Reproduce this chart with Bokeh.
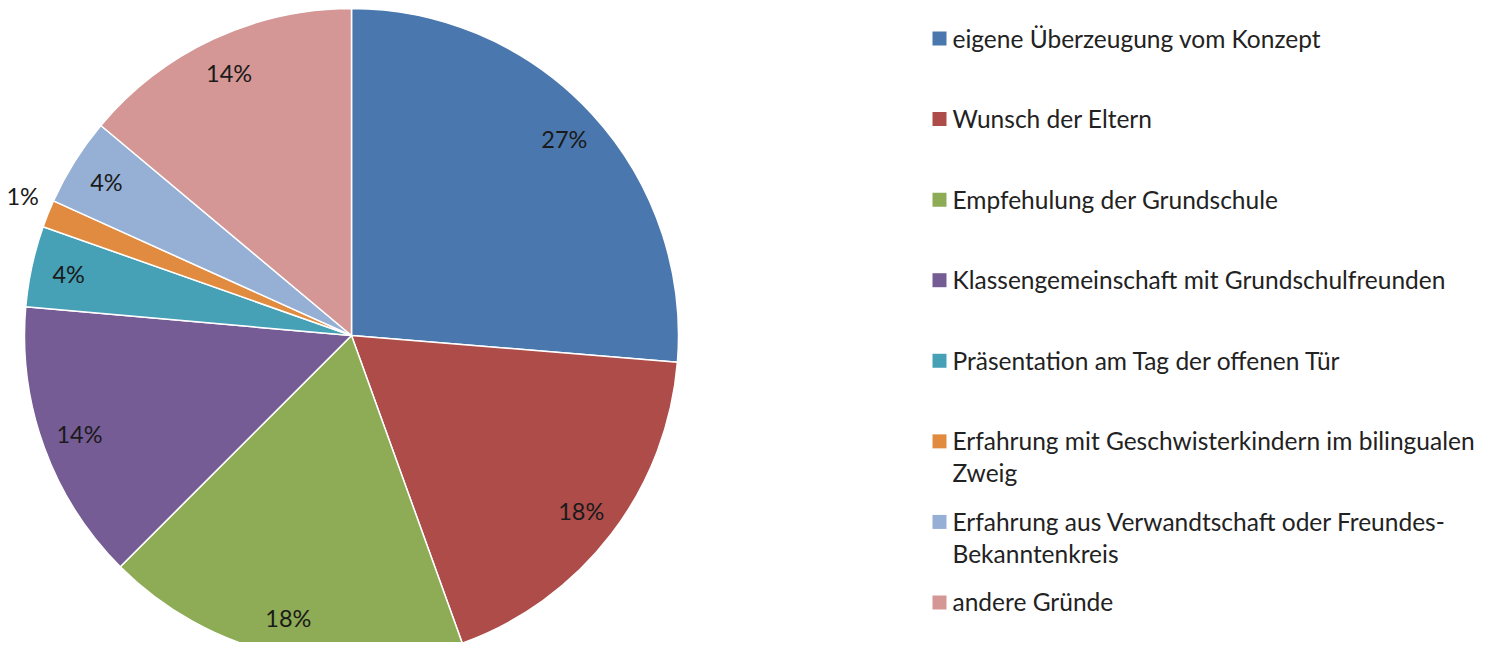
import math
from bokeh.plotting import figure
from bokeh.models import Range1d, ColumnDataSource
from bokeh.core.properties import value
from bokeh.embed import file_html
from bokeh.resources import INLINE

# ---- data ----
categories = [
    "eigene Überzeugung vom Konzept",
    "Wunsch der Eltern",
    "Empfehulung der Grundschule",
    "Klassengemeinschaft mit Grundschulfreunden",
    "Präsentation am Tag der offenen Tür",
    "Erfahrung mit Geschwisterkindern im bilingualen\nZweig",
    "Erfahrung aus Verwandtschaft oder Freundes-\nBekanntenkreis",
    "andere Gründe",
]
shares = [26.3, 18.2, 18.0, 13.9, 4.0, 1.35, 4.35, 13.9]   # slice sizes (% of circle)
pct_shown = [27, 18, 18, 14, 4, 1, 4, 14]                  # percentages printed on slices
colors = ["#4A78AE", "#AE4C4A", "#8EAB55", "#765C95",
          "#46A0B6", "#E08B3F", "#95AFD5", "#D49795"]

# ---- layout ----
W, H = 1486, 642
def X(ix): return ix
def Y(iy): return H - iy

cx, cy, R = X(351), Y(335), 327.0
FONT = "Lato"

p = figure(width=W, height=H, x_range=Range1d(0, W), y_range=Range1d(0, H),
           output_backend="svg", toolbar_location=None, min_border=0,
           x_axis_type=None, y_axis_type=None)
p.grid.visible = False
p.outline_line_color = None
p.background_fill_color = "white"
p.border_fill_color = "white"

total = sum(shares)
starts, ends = [], []
in_x, in_y, in_t = [], [], []
out_x, out_y, out_t, out_align = [], [], [], []
cum = 0.0
for i, s in enumerate(shares):
    a0 = math.pi / 2 - 2 * math.pi * cum / total
    a1 = math.pi / 2 - 2 * math.pi * (cum + s) / total
    starts.append(a0)
    ends.append(a1)
    mid = (a0 + a1) / 2
    if s / total < 0.02:
        out_x.append(cx + 1.03 * R * math.cos(mid))
        out_y.append(cy + 1.03 * R * math.sin(mid))
        out_t.append(f"{pct_shown[i]}%")
        out_align.append("right" if math.cos(mid) < 0 else "left")
    else:
        in_x.append(cx + 0.885 * R * math.cos(mid))
        in_y.append(cy + 0.885 * R * math.sin(mid))
        in_t.append(f"{pct_shown[i]}%")
    cum += s

src = ColumnDataSource(dict(start=starts, end=ends, color=colors))
p.wedge(x=cx, y=cy, radius=R, start_angle="start", end_angle="end",
        direction="clock", fill_color="color", line_color="white",
        line_width=1.5, source=src)

p.text(x=in_x, y=in_y, text=in_t, text_font=value(FONT), text_font_size="23.5px",
       text_align="center", text_baseline="middle", text_color="#1a1a1a")
osrc = ColumnDataSource(dict(x=out_x, y=out_y, t=out_t, a=out_align))
p.text(x="x", y="y", text="t", text_align="a", source=osrc,
       text_font=value(FONT), text_font_size="23.5px",
       text_baseline="bottom", text_color="#1a1a1a")

# ---- legend ----
row0, step = 38.0, 80.57
sq_x = [X(939)] * len(categories)
sq_y = [Y(row0 + i * step) for i in range(len(categories))]
p.rect(x=sq_x, y=sq_y, width=14, height=14, fill_color=colors, line_color=None)
p.text(x=[X(952)] * len(categories), y=[Y(row0 + i * step - 15) for i in range(len(categories))],
       text=categories, text_font=value(FONT), text_font_size="24.5px",
       text_align="left", text_baseline="top", text_line_height=1.1,
       text_color="#222222")

open("out.html", "w").write(file_html(p, INLINE))
